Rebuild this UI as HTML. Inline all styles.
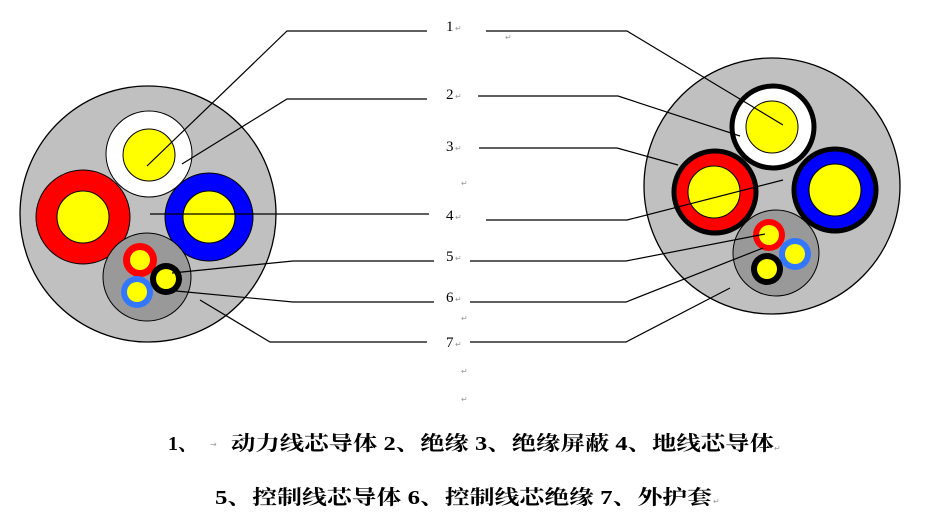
<!DOCTYPE html>
<html><head><meta charset="utf-8"><style>
html,body{margin:0;padding:0;background:#fff;width:945px;height:522px;overflow:hidden}
svg{display:block}
</style></head><body>
<svg width="945" height="522" viewBox="0 0 945 522" xmlns="http://www.w3.org/2000/svg">
<!-- LEFT cable -->
<circle cx="148" cy="214" r="128" fill="#c0c0c0" stroke="#000" stroke-width="1.3"/>
<circle cx="149" cy="154" r="43" fill="#fff" stroke="#000" stroke-width="1"/>
<circle cx="149" cy="155" r="26" fill="#ffff00" stroke="#000" stroke-width="1"/>
<circle cx="83" cy="217" r="47" fill="#ff0000" stroke="#000" stroke-width="1"/>
<circle cx="83" cy="217" r="26" fill="#ffff00" stroke="#000" stroke-width="1"/>
<circle cx="209" cy="217" r="44" fill="#0000ff" stroke="#000" stroke-width="1"/>
<circle cx="209" cy="217" r="26" fill="#ffff00" stroke="#000" stroke-width="1"/>
<circle cx="147" cy="277" r="44" fill="#999" stroke="#000" stroke-width="1"/>
<circle cx="140" cy="260" r="17" fill="#ff0000"/>
<circle cx="140" cy="260" r="10" fill="#ffff00"/>
<circle cx="137" cy="292" r="16" fill="#3377ff"/>
<circle cx="137" cy="292" r="10" fill="#ffff00"/>
<circle cx="166" cy="279" r="16" fill="#000"/>
<circle cx="166" cy="279" r="10" fill="#ffff00"/>
<g stroke="#000" stroke-width="1.2" fill="none">
<polyline points="147,166 287,31 427,31"/>
<polyline points="182,164 287,99 427,99"/>
<polyline points="150,214 429,214"/>
<polyline points="172,273 293,261 434,261"/>
<polyline points="176,291 293,302 434,302"/>
<polyline points="200,300 270,342 427,342"/>
</g>
<!-- RIGHT cable -->
<circle cx="772" cy="186" r="128" fill="#c0c0c0" stroke="#000" stroke-width="1.3"/>
<circle cx="773" cy="127" r="41" fill="#fff" stroke="#000" stroke-width="5"/>
<circle cx="772" cy="127" r="26" fill="#ffff00" stroke="#000" stroke-width="1"/>
<circle cx="715" cy="192" r="41" fill="#ff0000" stroke="#000" stroke-width="5"/>
<circle cx="714" cy="192" r="26" fill="#ffff00" stroke="#000" stroke-width="1"/>
<circle cx="835" cy="190" r="41" fill="#0000ff" stroke="#000" stroke-width="5"/>
<circle cx="835" cy="190" r="26" fill="#ffff00" stroke="#000" stroke-width="1"/>
<circle cx="776" cy="253" r="43" fill="#999" stroke="#000" stroke-width="1"/>
<circle cx="769" cy="235" r="16" fill="#ff0000"/>
<circle cx="769" cy="235" r="10" fill="#ffff00"/>
<circle cx="795" cy="254" r="16" fill="#3377ff"/>
<circle cx="795" cy="254" r="10" fill="#ffff00"/>
<circle cx="767" cy="269" r="16" fill="#000"/>
<circle cx="767" cy="269" r="10" fill="#ffff00"/>
<g stroke="#000" stroke-width="1.2" fill="none">
<polyline points="486,31 627,31 783,125"/>
<polyline points="478,96 618,96 740,136"/>
<polyline points="479,148 617,148 678,165"/>
<polyline points="486,220 627,220 783,180"/>
<polyline points="470,261 626,261 765,234"/>
<polyline points="470,302 626,302 763,248"/>
<polyline points="470,342 626,342 730,288"/>
</g>
<!-- labels -->
<g font-family="Liberation Serif, serif" font-size="15" fill="#000">
<text x="446" y="31">1</text>
<text x="446" y="99">2</text>
<text x="446" y="151">3</text>
<text x="446" y="220">4</text>
<text x="446" y="261">5</text>
<text x="446" y="302">6</text>
<text x="446" y="347">7</text>
</g>
<g font-family="DejaVu Sans, sans-serif" font-size="8" fill="#999">
<text x="455" y="31">↵</text><text x="455" y="99">↵</text><text x="455" y="151">↵</text>
<text x="455" y="220">↵</text><text x="455" y="261">↵</text><text x="455" y="302">↵</text>
<text x="455" y="347">↵</text>
<text x="461" y="186">↵</text><text x="461" y="321">↵</text><text x="461" y="374">↵</text><text x="461" y="402">↵</text>
<text x="505" y="40">↵</text>
<text x="774" y="451">↵</text><text x="713" y="504">↵</text>
<text x="210" y="447">→</text>
</g>
<g font-family="Liberation Serif, Noto Serif CJK SC, serif" font-size="20" font-weight="bold" fill="#000">
<text x="168" y="450">1、</text>
<text x="231" y="450" textLength="543" lengthAdjust="spacingAndGlyphs">动力线芯导体 2、绝缘 3、绝缘屏蔽 4、地线芯导体</text>
<text x="215" y="504" textLength="497" lengthAdjust="spacingAndGlyphs">5、控制线芯导体 6、控制线芯绝缘 7、外护套</text>
</g>
</svg>
</body></html>
